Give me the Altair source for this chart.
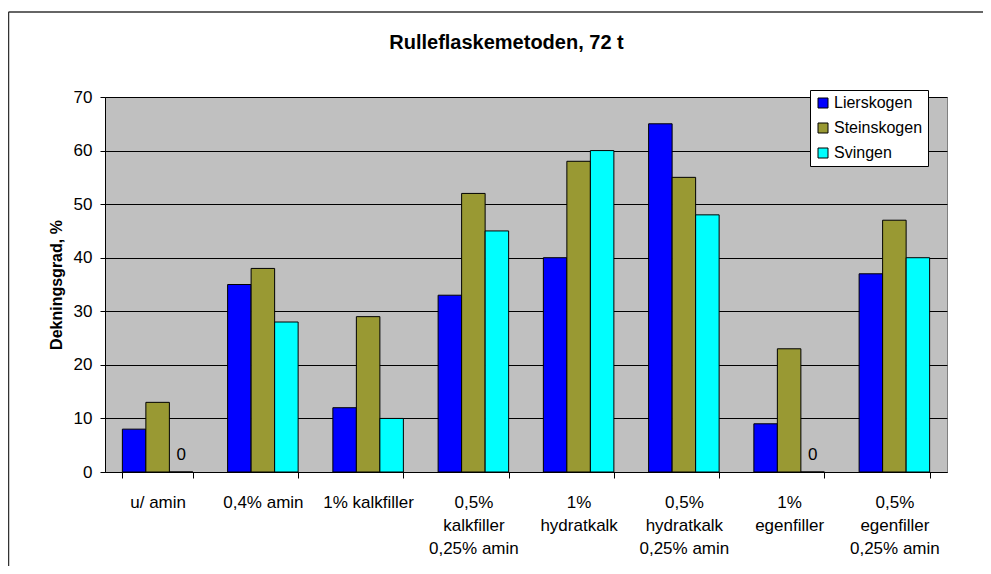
import altair as alt
import pandas as pd

title_text = "Rulleflaskemetoden,  72 t"
categories = ["u/ amin", "0,4% amin", "1% kalkfiller", "0,5%|kalkfiller|0,25% amin",
              "1%|hydratkalk", "0,5%|hydratkalk|0,25% amin", "1%|egenfiller",
              "0,5%|egenfiller|0,25% amin"]
series = ["Lierskogen", "Steinskogen", "Svingen"]
lierskogen = [8, 35, 12, 33, 40, 65, 9, 37]
steinskogen = [13, 38, 29, 52, 58, 55, 23, 47]
svingen = [0, 28, 10, 45, 60, 48, 0, 40]
colors = ["#0000FF", "#999933", "#00FFFF"]
y_ticks = [0, 10, 20, 30, 40, 50, 60, 70]

rows = []
for s, vals in zip(series, [lierskogen, steinskogen, svingen]):
    for c, v in zip(categories, vals):
        rows.append({"category": c, "series": s, "value": v})
df = pd.DataFrame(rows)

FONT = "Liberation Sans"

x_enc = alt.X("category:N", sort=categories,
              scale=alt.Scale(paddingInner=0.33, paddingOuter=0.165),
              axis=alt.Axis(title=None, labelAngle=0, labelExpr="split(datum.label, '|')",
                            labelFontSize=17, labelLineHeight=23, labelPadding=16,
                            tickBand="extent", tickSize=6, grid=False,
                            domainColor="black", tickColor="black"))
xoff_enc = alt.XOffset("series:N", sort=series,
                       scale=alt.Scale(paddingInner=0, paddingOuter=0))
y_enc = alt.Y("value:Q", scale=alt.Scale(domain=[0, 70], nice=False),
              axis=alt.Axis(title="Dekningsgrad, %", values=y_ticks, grid=True,
                            gridColor="black", gridWidth=1, tickSize=5, labelPadding=8,
                            labelFontSize=17, titleFontSize=16, titleFontWeight="bold",
                            titleX=-49, titleY=187.5, titleAngle=-90, titleAlign="center",
                            titleBaseline="middle", domainColor="black", tickColor="black"))

bars = alt.Chart(df).mark_bar(stroke="black", strokeWidth=1).encode(
    x=x_enc,
    xOffset=xoff_enc,
    y=y_enc,
    color=alt.Color("series:N", sort=series,
                    scale=alt.Scale(domain=series, range=colors),
                    legend=alt.Legend(title=None, orient="none", legendX=705, legendY=-7,
                                      fillColor="white", strokeColor="black", padding=5,
                                      symbolType="square", symbolSize=100,
                                      symbolStrokeColor="black", symbolStrokeWidth=1,
                                      labelFontSize=16, labelFont=FONT, rowPadding=9,
                                      labelOffset=3, labelColor="black")),
)

zeros = alt.Chart(df).transform_filter("datum.value == 0").mark_text(
    font=FONT, fontSize=17, baseline="alphabetic", dy=-12, color="black"
).encode(
    x=alt.X("category:N", sort=categories),
    xOffset=alt.XOffset("series:N", sort=series),
    y="value:Q",
    text="value:Q",
)

frame_df = pd.DataFrame({"k": [0]})
border_top = alt.Chart(frame_df).mark_rule(color="#333333", strokeWidth=1.5).encode(
    x=alt.value(-96.5), x2=alt.value(900), y=alt.value(-85))
border_left = alt.Chart(frame_df).mark_rule(color="#333333", strokeWidth=1.5).encode(
    x=alt.value(-96.5), y=alt.value(-85), y2=alt.value(480))

title_df = pd.DataFrame({"t": [title_text]})
title_mark = alt.Chart(title_df).mark_text(
    font=FONT, fontSize=20, fontWeight="bold", color="black",
    align="center", baseline="alphabetic"
).encode(x=alt.value(401.5), y=alt.value(-48.5), text="t:N")

chart = alt.layer(bars, zeros, border_top, border_left, title_mark).properties(
    width=842, height=375,
    padding={"left": 97, "top": 89, "right": 36, "bottom": 94},
    autosize=alt.AutoSizeParams(type="none"),
    background="white",
).configure_view(fill="#C0C0C0", stroke="#808080").configure_axis(
    labelFont=FONT, titleFont=FONT, labelColor="black", titleColor="black"
).configure_text(font=FONT)

chart.save("out.html", embed_options={"renderer": "svg", "actions": False})
